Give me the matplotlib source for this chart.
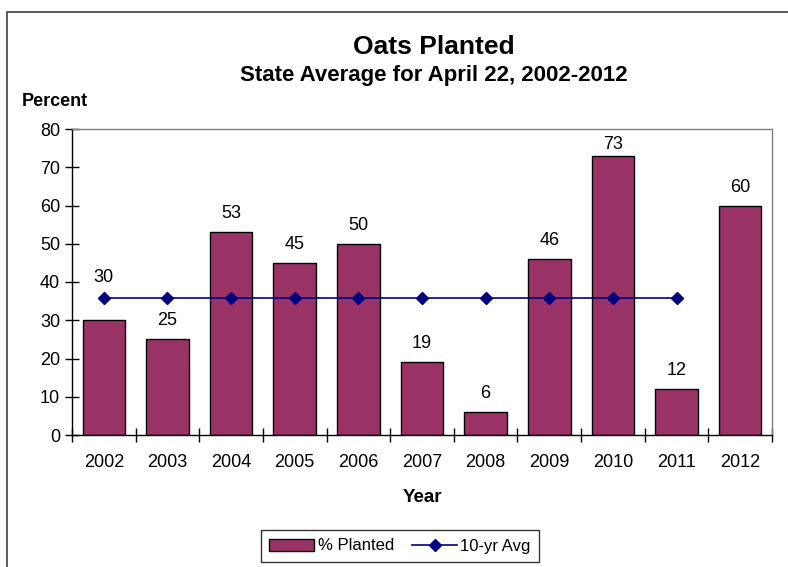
import matplotlib.pyplot as plt
from matplotlib.patches import Rectangle

plt.rcParams['font.family'] = ['Liberation Sans', 'DejaVu Sans']

years = ['2002', '2003', '2004', '2005', '2006', '2007', '2008', '2009', '2010', '2011', '2012']
planted = [30, 25, 53, 45, 50, 19, 6, 46, 73, 12, 60]
avg_years = years[:10]
avg = [35.9] * 10

fig = plt.figure(figsize=(7.88, 5.67), dpi=100)
ax = fig.add_axes([72 / 788, 132 / 567, 700 / 788, 306 / 567])

x = list(range(len(years)))
ax.bar(x, planted, width=0.67, color='#993366', edgecolor='black', linewidth=1.0,
       label='% Planted', zorder=2)
ax.plot(x[:10], avg, color='#000080', marker='D', markersize=6, linewidth=1.2,
        label='10-yr Avg', zorder=3)

for xi, v in zip(x, planted):
    # the 2002 label sits above the average line; 73 is kept inside the plot area
    off = 2.6
    if xi == 0:
        off = 9.0
    elif v == 73:
        off = 0.7
    ax.text(xi, v + off, str(v), ha='center', va='bottom', fontsize=13)

ax.set_xlim(-0.5, len(years) - 0.5)
ax.set_ylim(0, 80)
ax.set_yticks(range(0, 81, 10))
ax.set_xticks(x)
ax.set_xticklabels(years, fontsize=13)
ax.tick_params(axis='y', labelsize=13, direction='inout', length=10, width=1)
ax.tick_params(axis='x', length=0, pad=14)
ax.set_xticks([i + 0.5 for i in range(-1, len(years))], minor=True)
ax.tick_params(axis='x', which='minor', direction='inout', length=10, width=1)

for s in ['top', 'right']:
    ax.spines[s].set_color('#808080')
    ax.spines[s].set_linewidth(1)
for s in ['left', 'bottom']:
    ax.spines[s].set_color('black')
    ax.spines[s].set_linewidth(1)

ax.set_xlabel('Year', fontsize=13.5, fontweight='bold', labelpad=13)

fig.text(434 / 788, 1 - 47 / 567, 'Oats Planted', ha='center', va='center',
         fontsize=19, fontweight='bold')
fig.text(434 / 788, 1 - 76 / 567, 'State Average for April 22, 2002-2012', ha='center',
         va='center', fontsize=16, fontweight='bold')
fig.text(22 / 788, 1 - 102 / 567, 'Percent', ha='left', va='center',
         fontsize=13, fontweight='bold')

# outer chart frame
fig.patches.append(Rectangle((7 / 788, -0.05), 1.1, 1 - 12 / 567 + 0.05,
                             transform=fig.transFigure, fill=False,
                             edgecolor='#404040', linewidth=1.2))

handles, labels = ax.get_legend_handles_labels()
order = [labels.index('% Planted'), labels.index('10-yr Avg')]
leg = fig.legend([handles[i] for i in order], [labels[i] for i in order],
                 loc='center', bbox_to_anchor=(400 / 788, 1 - 546 / 567), ncol=2,
                 frameon=True, fancybox=False, edgecolor='black', fontsize=12,
                 handlelength=2.7, handletextpad=0.2, columnspacing=1.1,
                 borderpad=0.5)
leg.get_frame().set_linewidth(1)

fig.savefig('out.png', dpi=100)
